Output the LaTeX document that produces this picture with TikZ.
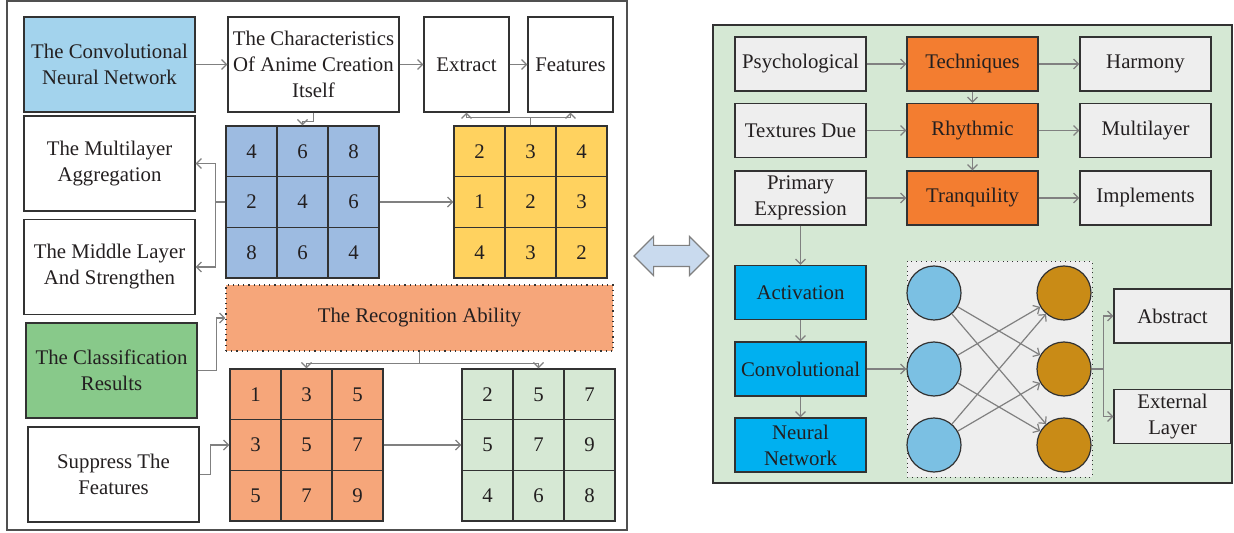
\documentclass[tikz,border=0pt]{standalone}
\usepackage{fontspec}
\setmainfont{Liberation Serif}
\usepackage{tikz}
\usetikzlibrary{arrows.meta, shapes.arrows}

\definecolor{textgray}{RGB}{35,31,32}
\definecolor{boxline}{RGB}{50,50,50}
\definecolor{linegray}{RGB}{128,128,128}
\definecolor{framegray}{RGB}{80,80,80}
\definecolor{convblue}{RGB}{163,211,237}
\definecolor{gridblue}{RGB}{157,187,225}
\definecolor{gridyellow}{RGB}{255,210,95}
\definecolor{salmon}{RGB}{246,166,122}
\definecolor{gridgreen}{RGB}{214,232,212}
\definecolor{classgreen}{RGB}{136,201,138}
\definecolor{panelgreen}{RGB}{213,232,212}
\definecolor{lightbox}{RGB}{238,238,238}
\definecolor{techorange}{RGB}{243,125,48}
\definecolor{actcyan}{RGB}{0,176,240}
\definecolor{neuronblue}{RGB}{123,192,227}
\definecolor{neurongold}{RGB}{201,139,22}
\definecolor{arrowblue}{RGB}{201,218,238}

% 3x3 grid of numbers: name, left, top, fill, values
\newcommand{\numgrid}[5]{%
  \foreach \v [count=\k from 0] in {#5} {
    \pgfmathtruncatemacro{\gr}{\k/3}
    \pgfmathtruncatemacro{\gc}{\k-3*\gr}
    \node[cell, fill=#4] (#1-\gr-\gc) at ({#2+(\gc+0.5)*51},{#3+(\gr+0.5)*50.7}) {\v};
  }}

\begin{document}
\begin{tikzpicture}[
    x=0.5pt, y=-0.5pt,
    every node/.style={font=\fontsize{10.4}{13}\selectfont, text=textgray, inner sep=1pt},
    box/.style={draw=boxline, line width=0.6pt, align=center, inner xsep=0pt, minimum width=85.5pt, minimum height=47.5pt},
    smallbox/.style={box, minimum width=42.5pt},
    rbox/.style={box, fill=lightbox, minimum width=65.5pt, minimum height=27pt},
    cell/.style={draw=boxline, line width=0.7pt, minimum width=25.5pt, minimum height=25.35pt, inner sep=0pt},
    neuron/.style={circle, draw=boxline, line width=0.6pt, minimum size=27pt, inner sep=0pt},
    conn/.style={draw=linegray, line width=0.6pt, -{Straight Barb[length=2.5pt, width=5pt]}}
    ]
    \useasboundingbox (0,0) rectangle (1234,533);
    % left panel
    \draw[framegray, line width=0.9pt] (7,1) rectangle (627,530);
    \node[box, fill=convblue] (conv) at (109.5,64.5) {The Convolutional\\Neural Network};
    \node[box] (charac) at (313.5,64.5) {The Characteristics\\Of Anime Creation\\Itself};
    \node[smallbox] (extract) at (466.5,64.5) {Extract};
    \node[smallbox] (feat) at (570.5,64.5) {Features};
    \node[box] (multi) at (109.5,163.5) {The Multilayer\\Aggregation};
    \node[box] (middle) at (109.5,267) {The Middle Layer\\And Strengthen};
    \node[box, fill=classgreen] (classif) at (111.5,370.5) {The Classification\\Results};
    \node[box] (suppress) at (113.5,474.5) {Suppress The\\Features};
    \node[box, dotted, fill=salmon, minimum width=193.5pt, minimum height=33pt] (recog) at (419.5,318) {The Recognition Ability};
    % grids
    \numgrid{blue}{226}{126}{gridblue}{4,6,8,2,4,6,8,6,4}
    \numgrid{yellow}{454}{126}{gridyellow}{2,3,4,1,2,3,4,3,2}
    \numgrid{orange}{230}{369}{salmon}{1,3,5,3,5,7,5,7,9}
    \numgrid{green}{462}{369}{gridgreen}{2,5,7,5,7,9,4,6,8}
    % left connectors
    \draw[conn] (conv) -- (charac);
    \draw[conn] (charac) -- (extract);
    \draw[conn] (extract) -- (feat);
    \draw[conn] (charac.south) -- ++(0,9) -| (blue-0-1.north);
    \draw[conn] (yellow-0-1.north) -- ++(0,-8) -| (extract.south);
    \draw[conn] (yellow-0-1.north) -- ++(0,-8) -| (feat.south);
    \draw[conn] (blue-1-2) -- (yellow-1-0);
    \draw[conn] (blue-1-0.west) -- ++(-10,0) |- (multi.east);
    \draw[conn] (blue-1-0.west) -- ++(-10,0) |- (middle.east);
    \draw[conn] (classif.east) -- ++(19,0) |- (recog.west);
    \draw[conn] (recog.south) -- ++(0,12) -| (orange-0-1.north);
    \draw[conn] (recog.south) -- ++(0,12) -| (green-0-1.north);
    \draw[conn] (suppress.east) -- ++(11,0) |- (orange-1-0.west);
    \draw[conn] (orange-1-2) -- (green-1-0);
    % link between panels
    \node[double arrow, draw=linegray, fill=arrowblue, line width=0.6pt, inner sep=5pt,
        minimum height=37.5pt, double arrow head extend=4.5pt] (link) at (671.5,256) {};
    % right panel
    \draw[boxline, line width=0.6pt, fill=panelgreen] (713,25) rectangle (1232,483);
    \draw[boxline, dotted, fill=lightbox] (907,261) rectangle (1092,477);
    \node[rbox] (psych) at (800.5,64) {Psychological};
    \node[rbox, fill=techorange] (tech) at (972.5,64) {Techniques};
    \node[rbox] (harm) at (1145.5,64) {Harmony};
    \node[rbox] (textures) at (800.5,130.5) {Textures Due};
    \node[rbox, fill=techorange] (rhythm) at (972.5,130.5) {Rhythmic};
    \node[rbox] (multil) at (1145.5,130.5) {Multilayer};
    \node[rbox] (primary) at (800.5,198) {Primary\\Expression};
    \node[rbox, fill=techorange] (tranq) at (972.5,198) {Tranquility};
    \node[rbox] (impl) at (1145.5,198) {Implements};
    \node[rbox, fill=actcyan] (activ) at (800.5,292.5) {Activation};
    \node[rbox, fill=actcyan] (convo) at (800.5,369) {Convolutional};
    \node[rbox, fill=actcyan] (neural) at (800.5,445) {Neural\\Network};
    \node[rbox, minimum width=58.5pt] (abstract) at (1172.5,316) {Abstract};
    \node[rbox, minimum width=58.5pt] (external) at (1172.5,416.5) {External\\Layer};
    % neurons
    \foreach \i/\y in {1/293, 2/369, 3/445} {
        \node[neuron, fill=neuronblue] (l\i) at (934,\y) {};
        \node[neuron, fill=neurongold] (r\i) at (1064,\y) {};
    }
    % right connectors
    \draw[conn] (psych) -- (tech);
    \draw[conn] (tech) -- (harm);
    \draw[conn] (textures) -- (rhythm);
    \draw[conn] (rhythm) -- (multil);
    \draw[conn] (primary) -- (tranq);
    \draw[conn] (tranq) -- (impl);
    \draw[conn] (tech) -- (rhythm);
    \draw[conn] (rhythm) -- (tranq);
    \draw[conn] (primary) -- (activ);
    \draw[conn] (activ) -- (convo);
    \draw[conn] (convo) -- (neural);
    \draw[conn] (convo) -- (l2);
    \foreach \i in {1,2,3}
        \foreach \j in {1,2,3} {
            \ifnum\i=\j\else \draw[conn] (l\i) -- (r\j); \fi
        }
    \draw[conn] (r2.east) -- ++(12,0) |- (abstract.west);
    \draw[conn] (r2.east) -- ++(12,0) |- (external.west);
\end{tikzpicture}
\end{document}
